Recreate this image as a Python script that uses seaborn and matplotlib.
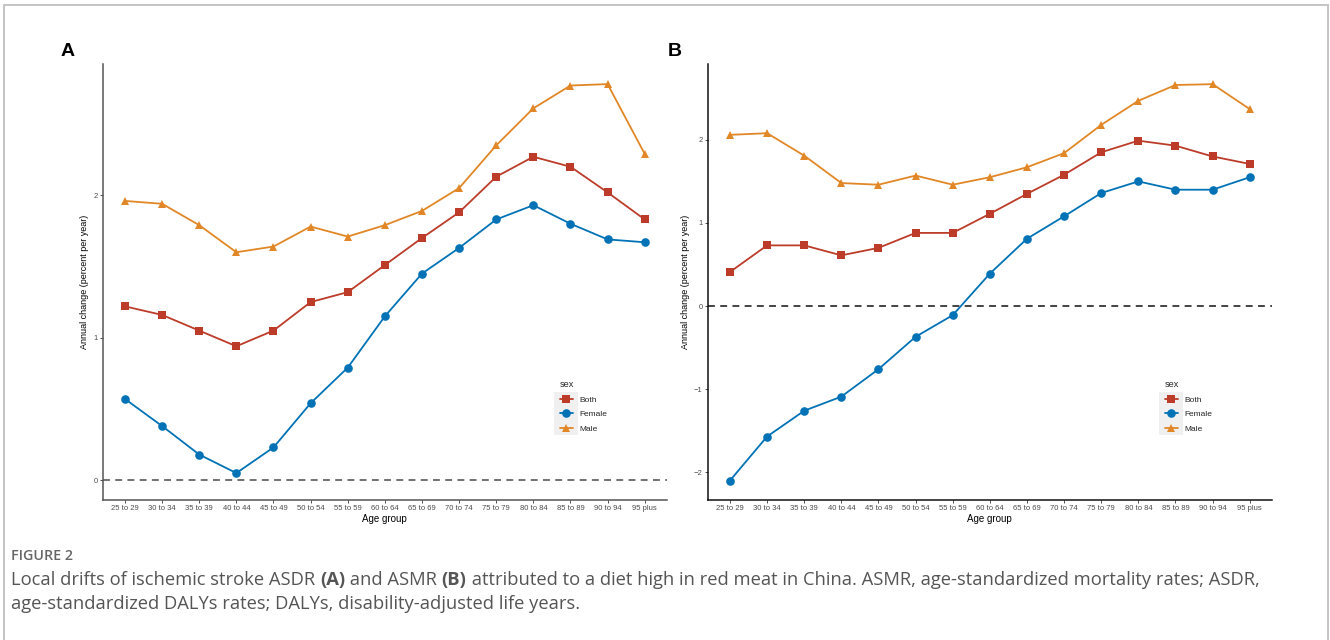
import matplotlib
matplotlib.use("Agg")
import matplotlib.pyplot as plt
import numpy as np
import pandas as pd
import seaborn as sns
from matplotlib.patches import Rectangle

# ---------------- data ----------------
age_groups = ["25 to 29", "30 to 34", "35 to 39", "40 to 44", "45 to 49",
              "50 to 54", "55 to 59", "60 to 64", "65 to 69", "70 to 74",
              "75 to 79", "80 to 84", "85 to 89", "90 to 94", "95 plus"]
sexes = ["Both", "Female", "Male"]

# Panel A: ASDR local drifts
a_both = [1.22, 1.16, 1.05, 0.94, 1.05, 1.25, 1.32, 1.51, 1.70, 1.88, 2.13, 2.27, 2.20, 2.02, 1.83]
a_female = [0.57, 0.38, 0.18, 0.05, 0.23, 0.54, 0.79, 1.15, 1.45, 1.63, 1.83, 1.93, 1.80, 1.69, 1.67]
a_male = [1.96, 1.94, 1.79, 1.60, 1.64, 1.78, 1.71, 1.79, 1.89, 2.05, 2.35, 2.61, 2.77, 2.78, 2.29]

# Panel B: ASMR local drifts
b_both = [0.41, 0.73, 0.73, 0.61, 0.70, 0.88, 0.88, 1.11, 1.35, 1.58, 1.85, 1.99, 1.93, 1.80, 1.71]
b_female = [-2.10, -1.57, -1.26, -1.09, -0.76, -0.37, -0.11, 0.39, 0.81, 1.08, 1.36, 1.50, 1.40, 1.40, 1.55]
b_male = [2.06, 2.08, 1.81, 1.48, 1.46, 1.57, 1.46, 1.55, 1.67, 1.84, 2.18, 2.47, 2.66, 2.67, 2.37]

yticks_a = [0, 1, 2]
yticks_b = [-2, -1, 0, 1, 2]

caption_head = "FIGURE 2"
# (text, bold) segments
caption_l1 = [("Local drifts of ischemic stroke ASDR ", False), ("(A)", True), (" and ASMR ", False),
              ("(B)", True),
              (" attributed to a diet high in red meat in China. ASMR, age-standardized mortality rates; ASDR,", False)]
caption_l2 = [("age-standardized DALYs rates; DALYs, disability-adjusted life years.", False)]


def make_df(both, female, male):
    rows = []
    for s, vals in zip(sexes, [both, female, male]):
        for a, v in zip(age_groups, vals):
            rows.append({"age": a, "value": v, "sex": s})
    df = pd.DataFrame(rows)
    df["age"] = pd.Categorical(df["age"], categories=age_groups, ordered=True)
    return df


df_a = make_df(a_both, a_female, a_male)
df_b = make_df(b_both, b_female, b_male)

# ---------------- style ----------------
sns.set_theme(style="white")
plt.rcParams["font.family"] = ["Liberation Sans", "DejaVu Sans"]

palette = {"Both": "#BC3C29", "Female": "#0072B5", "Male": "#E18727"}
markers = {"Both": "s", "Female": "o", "Male": "^"}

W, H = 1330, 640
fig = plt.figure(figsize=(W / 100, H / 100), dpi=100)
fig.patch.set_facecolor("white")


def px_axes(l, t, r, b):
    return fig.add_axes([l / W, 1 - b / H, (r - l) / W, (b - t) / H])


def draw_panel(ax, df, ylim, yticks, axis_color, hline_color, label, label_x):
    ax.axhline(0, color=hline_color, lw=1.1, ls=(0, (4.5, 3.5)), zorder=1)
    sns.lineplot(data=df, x="age", y="value", hue="sex", style="sex",
                 markers=markers, dashes=False, palette=palette,
                 hue_order=sexes, style_order=sexes,
                 linewidth=1.3, markersize=6.2, markeredgewidth=0,
                 sort=False, ax=ax, zorder=3)
    ax.set_xlim(-0.6, len(age_groups) - 1 + 0.6)
    ax.set_ylim(*ylim)
    ax.set_yticks(yticks)
    ax.set_yticklabels([("\u2212" + str(abs(t))) if t < 0 else str(t) for t in yticks])
    ax.set_xticks(range(len(age_groups)))
    ax.set_xticklabels(age_groups)
    ax.set_xlabel("Age group", fontsize=7, color="black", labelpad=1)
    ax.set_ylabel("Annual change (percent per year)", fontsize=6.5, color="black", labelpad=3)
    for s in ["top", "right"]:
        ax.spines[s].set_visible(False)
    for s in ["left", "bottom"]:
        ax.spines[s].set_color(axis_color)
        ax.spines[s].set_linewidth(1.1)
    ax.tick_params(axis="both", which="both", length=2.2, width=0.6, color="#333333",
                   labelsize=5.5, labelcolor="#4d4d4d", pad=1.5, bottom=True, left=True)
    ax.grid(False)
    ax.set_facecolor("white")

    sns.move_legend(ax, "upper left", bbox_to_anchor=(0.810, 0.275), frameon=False,
                    title="sex", fontsize=6.0, title_fontsize=6.6,
                    handlelength=1.6, handletextpad=0.7, labelspacing=0.8,
                    borderaxespad=0, borderpad=0)
    leg = ax.get_legend()
    leg._legend_box.align = "left"
    leg.set_zorder(10)

    fig.text(label_x / W, 1 - 51 / H, label, fontsize=14, fontweight="bold",
             ha="center", va="center", color="black")
    return leg


ax_a = px_axes(102.7, 64.3, 667, 500)
leg_a = draw_panel(ax_a, df_a, (-0.139, 2.919), yticks_a, "#555555", "#4a4a4a", "A", 68)

ax_b = px_axes(707.7, 64.3, 1272, 500)
leg_b = draw_panel(ax_b, df_b, (-2.334, 2.909), yticks_b, "#111111", "#111111", "B", 675)

fig.canvas.draw()
renderer = fig.canvas.get_renderer()

# light grey key background behind legend keys (ggplot style)
for ax, leg in ((ax_a, leg_a), (ax_b, leg_b)):
    boxes = [h.get_window_extent(renderer) for h in leg.legend_handles]
    x0 = min(b.x0 for b in boxes) - 1
    x1 = max(b.x1 for b in boxes) + 1
    ys = [0.5 * (b.y0 + b.y1) for b in boxes]
    step = (ys[0] - ys[-1]) / (len(ys) - 1)
    y0 = ys[-1] - step / 2
    y1 = ys[0] + step / 2
    inv = ax.transAxes.inverted()
    (ax0, ay0) = inv.transform((x0, y0))
    (ax1, ay1) = inv.transform((x1, y1))
    ax.add_patch(Rectangle((ax0, ay0), ax1 - ax0, ay1 - ay0, transform=ax.transAxes,
                           facecolor="#f0f0f0", edgecolor="none", clip_on=False, zorder=2))

# figure border
fig.add_artist(Rectangle((4 / W, -0.05), (1327.5 - 4) / W, 1.05 - 5 / H,
                         transform=fig.transFigure, fill=False,
                         edgecolor="#c4c4c4", linewidth=1.4))

# caption
cap_font = ["Open Sans", "DejaVu Sans"]
fig.text(11 / W, 1 - 556 / H, caption_head, fontsize=10.3, color="#666666",
         family=cap_font, fontweight="semibold", va="center", ha="left")


def draw_segments(segments, x_px, y_px, size):
    x = x_px
    for txt, bold in segments:
        t = fig.text(x / W, 1 - y_px / H, txt, fontsize=size, color="#555555",
                     family=cap_font, fontweight="bold" if bold else "normal",
                     va="center", ha="left")
        fig.canvas.draw()
        bb = t.get_window_extent(fig.canvas.get_renderer())
        x = bb.x1


draw_segments(caption_l1, 11, 580, 13.2)
draw_segments(caption_l2, 11, 604, 13.2)

fig.savefig("out.png", dpi=100, facecolor="white")
